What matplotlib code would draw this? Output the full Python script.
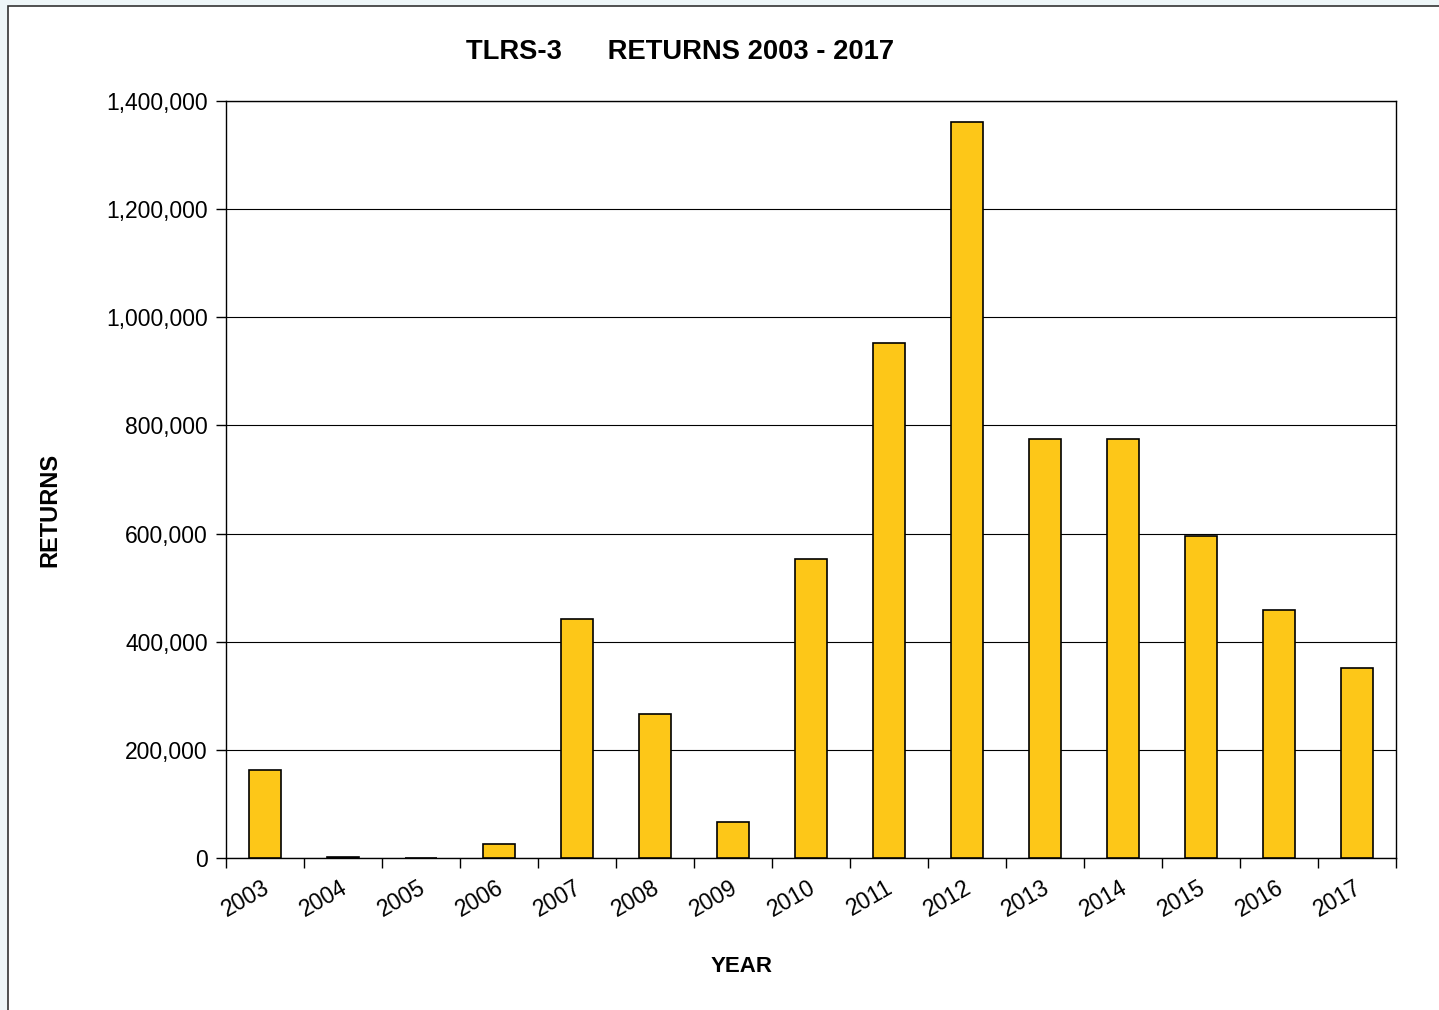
import numpy as np
import matplotlib.pyplot as plt
from matplotlib.patches import Rectangle
from matplotlib.ticker import FuncFormatter

plt.rcParams['font.family'] = ['Liberation Sans', 'DejaVu Sans']

years = ['2003', '2004', '2005', '2006', '2007', '2008', '2009', '2010',
         '2011', '2012', '2013', '2014', '2015', '2016', '2017']
returns = [163000, 2000, 0, 26000, 442000, 266000, 67000, 553000,
           952000, 1361000, 775000, 775000, 595000, 459000, 351000]

fig = plt.figure(figsize=(14.39, 10.10), dpi=100)
fig.patch.set_facecolor('#eef6f8')

# white chart area with dark frame, kept behind the axes
frame = Rectangle((8 / 1439, -0.01), 1.1, 1.0 - 6 / 1010 + 0.01,
                  transform=fig.transFigure, facecolor='white',
                  edgecolor='#333333', linewidth=1.2, zorder=-5)
fig.patches.append(frame)

ax = fig.add_axes([226 / 1439, 1 - 858 / 1010, (1396 - 226) / 1439, (858 - 101) / 1010])
ax.set_facecolor('white')

index = np.arange(len(years))
ax.bar(index, returns, 0.4, color='#fdc718', edgecolor='black', linewidth=1.2, zorder=3)

ax.set_xlim(-0.5, len(years) - 0.5)
ax.set_ylim(0, 1400000)
ax.set_yticks(np.arange(0, 1400001, 200000))
ax.yaxis.set_major_formatter(FuncFormatter(lambda v, p: '{:,.0f}'.format(v)))
ax.grid(axis='y', color='black', linewidth=0.8, zorder=1)
ax.set_axisbelow(True)

# category boundaries carry the x ticks, labels sit at centres
ax.set_xticks(np.arange(-0.5, len(years)), minor=False)
ax.set_xticklabels([])
ax.set_xticks(index - 0.04, minor=True)
ax.set_xticklabels(years, minor=True, rotation=30, ha='right', va='top',
                   rotation_mode='anchor', fontsize=16.5)
ax.tick_params(axis='x', which='minor', length=0, pad=13)
ax.tick_params(axis='x', which='major', direction='out', length=7, width=1)
ax.tick_params(axis='y', direction='out', length=7, width=1, labelsize=16.5, pad=6)

for side in ['top', 'right', 'bottom', 'left']:
    ax.spines[side].set_linewidth(1.0)
    ax.spines[side].set_color('black')

fig.text(50 / 1439, 1 - 510 / 1010, 'RETURNS', fontsize=17, fontweight='bold',
         rotation=90, ha='center', va='center')
fig.text(742 / 1439, 1 - 967 / 1010, 'YEAR', fontsize=16, fontweight='bold',
         ha='center', va='center')
fig.text(680 / 1439, 1 - 52 / 1010, 'TLRS-3      RETURNS 2003 - 2017', fontsize=19.7,
         fontweight='bold', ha='center', va='center')

fig.savefig('out.png', dpi=100, facecolor=fig.get_facecolor())
